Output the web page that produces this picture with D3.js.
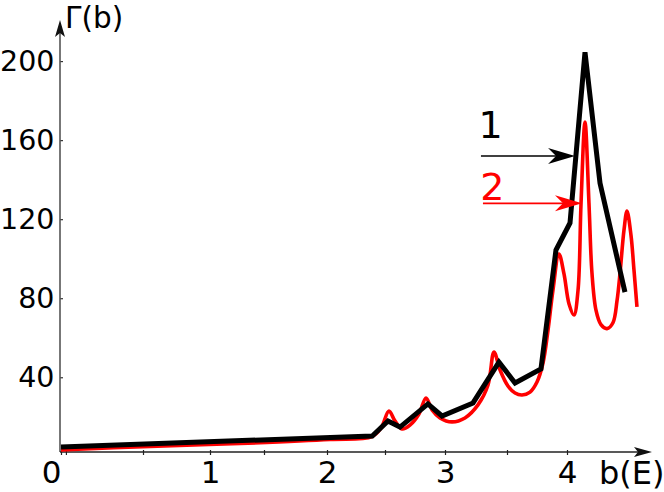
<!DOCTYPE html>
<html><head><meta charset="utf-8">
<script src="https://cdn.jsdelivr.net/npm/d3@7"></script>
<style>html,body{margin:0;padding:0;background:#fff;} svg{display:block;font-family:"DejaVu Sans",sans-serif;}</style>
</head><body>
<svg id="c" width="664" height="492"></svg>
<script>
// ---- data ----
const majorTicks = [0, 1, 2, 3, 4];
const minorTicks = [0.03, 0.5, 1.5, 2.5, 3.5];
const yTicks = [40, 80, 120, 160, 200];

const curve1B = [0, 2.39, 2.525, 2.625, 2.858, 2.975, 3.226, 3.435, 3.567, 3.783, 3.908, 4.025, 4.15, 4.275, 4.483];
const curve1G = [4.7, 10.3, 17.9, 14.8, 26.5, 20.4, 27.0, 47.7, 37.1, 44.2, 104.4, 118.1, 204.5, 138.3, 83.1];

const curve2B = [0, 0.552, 1.278, 2.026, 2.388, 2.466, 2.533, 2.583, 2.642, 2.708, 2.783, 2.842, 2.892, 2.958,
  3.056, 3.161, 3.266, 3.347, 3.395, 3.444, 3.508, 3.567, 3.625, 3.692, 3.75, 3.8, 3.842, 3.883, 3.933, 3.975,
  4.017, 4.058, 4.092, 4.117, 4.15, 4.183, 4.208, 4.242, 4.283, 4.333, 4.383, 4.417, 4.442, 4.475, 4.5, 4.533, 4.558, 4.583];
const curve2G = [3.2, 5.0, 6.5, 8.5, 10.0, 14.3, 22.9, 17.9, 13.8, 15.8, 21.4, 29.5, 23.4, 19.4,
  17.4, 19.4, 26.0, 36.1, 52.8, 43.7, 35.6, 32.0, 31.0, 32.5, 37.6, 47.2, 63.9, 84.1, 102.4, 92.3,
  77.1, 71.5, 84.1, 128.2, 169.2, 128.2, 92.8, 73.8, 66.6, 64.6, 67.6, 78.8, 92.8, 114.5, 124.1, 112.0, 94.4, 75.6];

const labels = ["1", "2"];

// ---- scales ----
const x = d3.scaleLinear()
  .domain([0, 0.5, 1, 1.5, 2, 2.5, 3, 3.5, 4])
  .range([61, 143, 210, 264, 327, 385, 445, 507, 567]);
const y = d3.scaleLinear().domain([0, 200]).range([456.3, 61.1]);

const svg = d3.select("#c");
const axisY0 = 452, axisX0 = 60;
const FS = 28.5;

// y axis
const gy = svg.append("g").attr("transform", `translate(${axisX0},0)`)
  .call(d3.axisLeft(y).tickValues(yTicks).tickSize(-3).tickPadding(5.5).tickFormat(d3.format("d")));
gy.select(".domain").remove();
gy.selectAll(".tick line").attr("stroke", "#333").attr("stroke-width", 1.2);
gy.selectAll(".tick text").attr("font-size", FS).attr("font-family", "DejaVu Sans").attr("fill", "#000");

// x axis major
const gx = svg.append("g").attr("transform", `translate(0,${axisY0})`)
  .call(d3.axisBottom(x).tickValues(majorTicks).tickSize(3).tickPadding(5.5).tickFormat(d3.format("d")));
gx.select(".domain").remove();
gx.selectAll(".tick line").attr("y1", -2).attr("stroke", "#222").attr("stroke-width", 1.2);
gx.selectAll(".tick text").attr("font-size", 31).attr("font-family", "DejaVu Sans").attr("fill", "#000")
  .attr("dx", d => d === 0 ? -10 : 0);
// x axis minor
const gxm = svg.append("g").attr("transform", `translate(0,${axisY0})`)
  .call(d3.axisBottom(x).tickValues(minorTicks).tickSize(3).tickFormat(""));
gxm.select(".domain").remove();
gxm.selectAll(".tick line").attr("y1", -2).attr("stroke", "#222").attr("stroke-width", 1.2);

// axis lines with arrows
svg.append("line").attr("x1", axisX0).attr("x2", axisX0).attr("y1", axisY0).attr("y2", 30)
  .attr("stroke", "#555").attr("stroke-width", 1.6);
svg.append("path").attr("d", `M${axisX0},20 L${axisX0 - 5},37 L${axisX0},33 L${axisX0 + 5},37 Z`).attr("fill", "#111");
svg.append("line").attr("x1", axisX0).attr("x2", 642).attr("y1", axisY0).attr("y2", axisY0)
  .attr("stroke", "#222").attr("stroke-width", 1.6);
svg.append("path").attr("d", `M652,${axisY0} L634,${axisY0 - 5} L638,${axisY0} L634,${axisY0 + 5} Z`).attr("fill", "#111");

svg.append("text").attr("x", 65).attr("y", 27.5).attr("font-size", 29.5).text("Γ(b)");
svg.append("text").attr("x", 599).attr("y", 484).attr("font-size", 32).text("b(E)");

// curves
const line2 = d3.line().x(d => x(d[0])).y(d => y(d[1])).curve(d3.curveCatmullRom.alpha(0.5));
const line1 = d3.line().x(d => x(d[0])).y(d => y(d[1]));
svg.append("path").attr("d", line2(d3.zip(curve2B, curve2G)))
  .attr("fill", "none").attr("stroke", "#f00").attr("stroke-width", 3.6).attr("stroke-linejoin", "round");
svg.append("path").attr("d", line1(d3.zip(curve1B, curve1G)))
  .attr("fill", "none").attr("stroke", "#000").attr("stroke-width", 5).attr("stroke-linejoin", "miter").attr("stroke-miterlimit", 2);

// annotations
function arrow(b0, b1, g, color) {
  const X0 = x(b0), X1 = x(b1), Y = y(g);
  svg.append("line").attr("x1", X0).attr("x2", X1 - 15).attr("y1", Y).attr("y2", Y)
    .attr("stroke", color).attr("stroke-width", 1.6);
  svg.append("path").attr("d", `M${X1},${Y} L${X1 - 27},${Y - 8} L${X1 - 19},${Y} L${X1 - 27},${Y + 8} Z`).attr("fill", color);
}
arrow(3.29, 4.067, 152.0, "#000");
arrow(3.306, 4.125, 128.0, "#f00");
svg.append("text").attr("x", x(3.27)).attr("y", y(161.1)).attr("font-size", 38).attr("fill", "#000").text(labels[0]);
svg.append("text").attr("x", x(3.285)).attr("y", y(129.7)).attr("font-size", 38).attr("fill", "#f00").text(labels[1]);
</script>
</body></html>
